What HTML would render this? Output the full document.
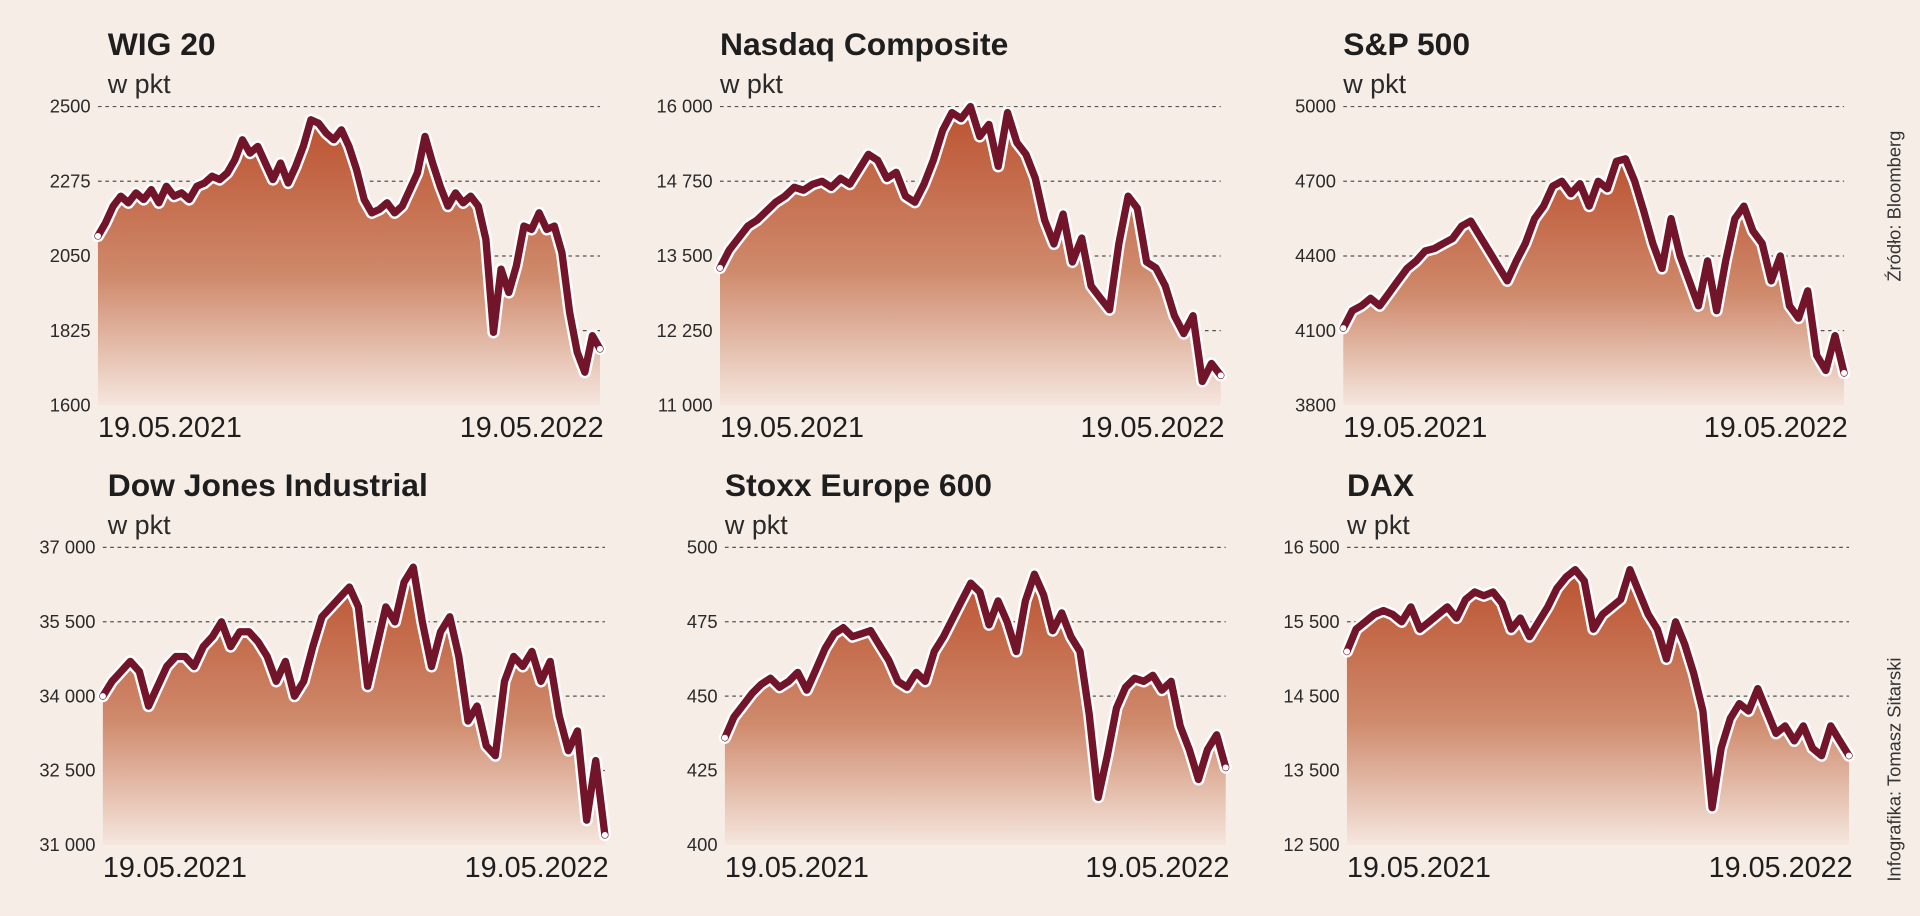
<!DOCTYPE html>
<html><head><meta charset="utf-8">
<style>
html,body{margin:0;padding:0;background:#f7ede7;}
svg{display:block;font-family:"Liberation Sans","DejaVu Sans",sans-serif;}
</style></head>
<body>
<svg id="root" width="1920" height="916" viewBox="0 0 1568 748" xmlns="http://www.w3.org/2000/svg">
<defs>
<linearGradient id="fillGrad" x1="0" y1="0" x2="0" y2="1">
<stop offset="0" stop-color="#bb5230"/>
<stop offset="0.55" stop-color="#cf8a6c"/>
<stop offset="1" stop-color="#f5e6de"/>
</linearGradient>
</defs>
<rect x="0" y="0" width="1568" height="748" fill="#f7ede7"/>
<text transform="translate(1552,230) rotate(-90)" font-size="15" fill="#333">Źródło: Bloomberg</text>
<text transform="translate(1552,720) rotate(-90)" font-size="15" fill="#333">Infografika: Tomasz Sitarski</text>
</svg>
<script>
const titles = ["WIG 20","Nasdaq Composite","S&P 500","Dow Jones Industrial","Stoxx Europe 600","DAX"];
const dateLabels = ["19.05.2021","19.05.2022"];
const wigTicks = [1600,1825,2050,2275,2500];
const nasdaqTicks = [11000,12250,13500,14750,16000];
const spTicks = [3800,4100,4400,4700,5000];
const dowTicks = [31000,32500,34000,35500,37000];
const stoxxTicks = [400,425,450,475,500];
const daxTicks = [12500,13500,14500,15500,16500];
const wigValues = [2110,2150,2200,2230,2210,2240,2220,2250,2210,2260,2230,2240,2220,2260,2270,2290,2280,2300,2340,2400,2360,2380,2330,2280,2330,2270,2320,2380,2460,2450,2420,2400,2430,2380,2310,2220,2180,2190,2210,2180,2200,2250,2300,2410,2330,2260,2200,2240,2210,2230,2200,2100,1820,2010,1940,2020,2140,2130,2180,2130,2140,2060,1880,1760,1700,1810,1770];
const nasdaqValues = [13300,13600,13800,14000,14100,14250,14400,14500,14650,14600,14700,14750,14650,14800,14700,14950,15200,15100,14800,14900,14500,14400,14700,15100,15600,15900,15800,16000,15500,15700,15000,15900,15400,15200,14800,14100,13700,14200,13400,13800,13000,12800,12600,13700,14500,14300,13400,13300,13000,12500,12200,12500,11400,11700,11500];
const spValues = [4110,4180,4200,4230,4200,4250,4300,4350,4380,4420,4430,4450,4470,4520,4540,4480,4420,4360,4300,4380,4450,4550,4600,4680,4700,4650,4690,4600,4700,4670,4780,4790,4700,4580,4450,4350,4550,4400,4300,4200,4380,4180,4380,4550,4600,4500,4450,4300,4400,4200,4150,4260,4000,3940,4080,3930];
const dowValues = [34000,34300,34500,34700,34500,33800,34200,34600,34800,34800,34600,35000,35200,35500,35000,35300,35300,35100,34800,34300,34700,34000,34300,35000,35600,35800,36000,36200,35800,34200,35000,35800,35500,36300,36600,35500,34600,35300,35600,34800,33500,33800,33000,32800,34300,34800,34600,34900,34300,34700,33600,32900,33300,31500,32700,31200];
const stoxxValues = [436,443,447,451,454,456,453,455,458,452,459,466,471,473,470,471,472,467,462,455,453,458,455,465,470,476,482,488,485,474,482,475,465,482,491,484,472,478,470,465,444,416,430,446,453,456,455,457,452,455,440,432,422,432,437,426];
const daxValues = [15100,15400,15500,15600,15650,15600,15500,15700,15400,15500,15600,15700,15550,15800,15900,15850,15900,15750,15400,15550,15300,15500,15700,15950,16100,16200,16050,15400,15600,15700,15800,16200,15900,15600,15400,15000,15500,15200,14800,14300,13000,13800,14200,14400,14300,14600,14300,14000,14100,13900,14100,13800,13700,14100,13900,13700];

const ticksAll = [wigTicks,nasdaqTicks,spTicks,dowTicks,stoxxTicks,daxTicks];
const valuesAll = [wigValues,nasdaqValues,spValues,dowValues,stoxxValues,daxValues];
const layout = [
 {x0:80,x1:490,y0:87,y1:331,tx:88,ty:45},
 {x0:588,x1:997,y0:87,y1:331,tx:588,ty:45},
 {x0:1097,x1:1506,y0:87,y1:331,tx:1097,ty:45},
 {x0:84,x1:494,y0:447,y1:690,tx:88,ty:405},
 {x0:592,x1:1001,y0:447,y1:690,tx:592,ty:405},
 {x0:1100,x1:1510,y0:447,y1:690,tx:1100,ty:405}
];
const NS='http://www.w3.org/2000/svg';
const root=document.getElementById('root');
function mk(tag,attrs,parent){const e=document.createElementNS(NS,tag);for(const k in attrs)e.setAttribute(k,attrs[k]);(parent||root).appendChild(e);return e;}
function fmt(v){const s=String(v);return s.length>4?s.replace(/\B(?=(\d{3})+(?!\d))/g,' '):s;}
layout.forEach((L,i)=>{
 const g=mk('g',{});
 
 
 const ticks=ticksAll[i], vals=valuesAll[i];
 const vmin=ticks[0], vmax=ticks[ticks.length-1];
 const xs=k=>L.x0+(L.x1-L.x0)*k/(vals.length-1);
 const ys=v=>L.y1-(L.y1-L.y0)*(v-vmin)/(vmax-vmin);
 const t=mk('text',{x:L.tx,y:L.ty,'font-size':26,'font-weight':'bold',fill:'#1e1e1e'},g);
 t.textContent=titles[i];
 
 
 const u=mk('text',{x:L.tx,y:L.ty+31,'font-size':22,fill:'#2a2a2a'},g);
 u.textContent='w pkt';
 
 
 ticks.forEach((tv,j)=>{
  const y=ys(tv);
  if(j>0){const gl=mk('line',{x1:L.x0,x2:L.x1,y1:y,y2:y,stroke:'#555','stroke-width':1,'stroke-dasharray':'3,3'},g);
   
   }
  const tl=mk('text',{x:L.x0-6,y:y+5,'font-size':15,'text-anchor':'end',fill:'#2a2a2a'},g);
  tl.textContent=fmt(tv);
  
  
 });
 let d='';vals.forEach((v,k)=>{d+=(k?'L':'M')+xs(k).toFixed(1)+','+ys(v).toFixed(1);});
 const area=mk('path',{d:d+'L'+L.x1+','+L.y1+'L'+L.x0+','+L.y1+'Z',fill:'url(#fillGrad)'},g);
 
 
 const halo=mk('path',{d:d,fill:'none',stroke:'#fff','stroke-width':10,'stroke-linejoin':'round','stroke-linecap':'round'},g);
 
 
 const ln=mk('path',{d:d,fill:'none',stroke:'#72152b','stroke-width':6,'stroke-linejoin':'round','stroke-linecap':'round'},g);
 
 
 [0,vals.length-1].forEach(k=>{const c=mk('circle',{cx:xs(k),cy:ys(vals[k]),r:2.5,fill:'#fff'},g);
  
  });
 dateLabels.forEach((dl,j)=>{const dt=mk('text',{x:j?L.x1+3:L.x0,y:L.y1+26,'font-size':23.5,'text-anchor':j?'end':'start',fill:'#1e1e1e'},g);
  dt.textContent=dl;
  
  });
});
</script>
</body></html>
